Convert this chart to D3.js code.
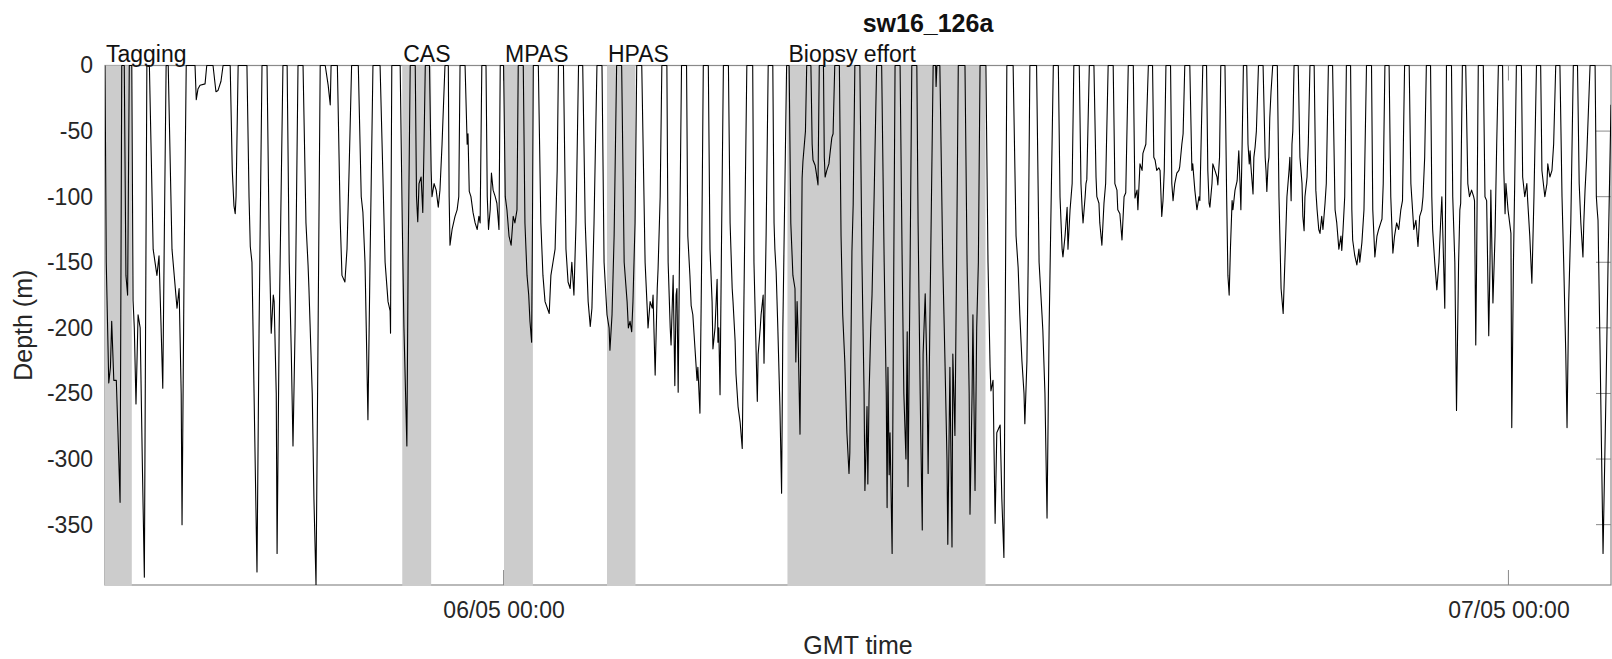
<!DOCTYPE html>
<html>
<head>
<meta charset="utf-8">
<script src="https://cdn.jsdelivr.net/npm/d3@7"></script>
<style>
  body { margin: 0; background: #fff; }
  svg { display: block; font-family: "Liberation Sans", Arial, Helvetica, sans-serif; }
</style>
</head>
<body>
<div id="chart"></div>
<script>
const width = 1612;
const height = 659;
const plot = {left: 105, right: 1611, top: 65.5, bottom: 585};

// dive profile: [hours since 05/05 00:00 GMT, depth (m)]
const profile = [
  [14.48,0],[14.51,-150],[14.57,-242],[14.61,-230],[14.64,-195],[14.69,-240],[14.75,-240],[14.79,-280],[14.84,-333],[14.88,0],
  [14.94,0],[14.98,-160],[15.02,-175],[15.06,0],
  [15.12,0],[15.15,-179],[15.18,-200],[15.22,-258],[15.27,-190],[15.32,-200],[15.37,-300],[15.42,-390],[15.48,0],
  [15.54,0],[15.63,-140],[15.72,-160],[15.77,-145],[15.82,-200],[15.86,-246],[15.90,-120],[15.94,0],
  [15.99,0],[16.08,-140],[16.20,-185],[16.25,-170],[16.30,-250],[16.32,-350],[16.37,-150],[16.42,0],
  [16.63,0],[16.66,-26],[16.70,-18],[16.75,-15],[16.87,-14],[16.91,0],
  [17.06,0],[17.13,-20],[17.18,-19],[17.25,-12],[17.30,0],
  [17.47,0],[17.52,-80],[17.56,-107],[17.59,-113],[17.61,-100],[17.66,0],
  [17.87,0],[17.92,-100],[17.95,-138],[17.99,-150],[18.04,-250],[18.11,-386],[18.16,-200],[18.23,0],
  [18.35,0],[18.40,-130],[18.45,-204],[18.50,-175],[18.52,-180],[18.57,-250],[18.59,-372],[18.64,-200],[18.73,0],
  [18.83,0],[18.88,-150],[18.93,-220],[18.97,-290],[19.02,-200],[19.09,0],
  [19.21,0],[19.28,-120],[19.33,-152],[19.35,-169],[19.43,-250],[19.47,-330],[19.52,-396],[19.57,-200],[19.62,0],
  [19.74,0],[19.81,-15],[19.86,-30],[19.88,0],
  [20.03,0],[20.10,-120],[20.14,-160],[20.21,-165],[20.26,-140],[20.31,-80],[20.37,0],
  [20.53,0],[20.60,-100],[20.64,-112],[20.69,-150],[20.72,-200],[20.76,-270],[20.81,-150],[20.88,0],
  [21.05,0],[21.17,-150],[21.24,-180],[21.29,-187],[21.30,-204],[21.31,-120],[21.33,0],
  [21.53,0],[21.58,-120],[21.62,-200],[21.69,-290],[21.72,-150],[21.77,0],
  [21.89,0],[21.92,-100],[21.95,-119],[21.98,-90],[22.03,-85],[22.07,-112],[22.10,-60],[22.13,0],
  [22.23,0],[22.27,-80],[22.29,-100],[22.34,-90],[22.39,-95],[22.44,-108],[22.48,-95],[22.53,-60],[22.60,0],
  [22.68,0],[22.70,-100],[22.72,-137],[22.77,-125],[22.84,-115],[22.89,-110],[22.93,-100],[22.96,0],
  [23.08,0],[23.13,-60],[23.15,-52],[23.18,-96],[23.22,-100],[23.27,-112],[23.32,-120],[23.37,-125],[23.41,-115],[23.44,-120],[23.48,0],
  [23.58,0],[23.61,-100],[23.64,-125],[23.68,-110],[23.71,-82],[23.75,-95],[23.80,-100],[23.84,-105],[23.89,-125],[23.92,0],
  [24.00,0],[24.04,-100],[24.08,-110],[24.13,-130],[24.18,-137],[24.23,-115],[24.27,-120],[24.32,-110],[24.35,0],
  [24.47,0],[24.51,-120],[24.56,-160],[24.60,-175],[24.63,-195],[24.67,-211],[24.69,-120],[24.71,0],
  [24.83,0],[24.89,-120],[24.94,-160],[24.99,-180],[25.09,-189],[25.13,-160],[25.18,-150],[25.23,-140],[25.28,-80],[25.31,0],
  [25.43,0],[25.49,-140],[25.54,-165],[25.59,-170],[25.63,-150],[25.68,-175],[25.73,-120],[25.79,0],
  [25.89,0],[25.95,-120],[26.02,-180],[26.07,-199],[26.11,-185],[26.16,-120],[26.23,0],
  [26.35,0],[26.40,-150],[26.47,-190],[26.52,-200],[26.54,-217],[26.59,-190],[26.64,-130],[26.70,0],
  [26.82,0],[26.88,-150],[26.95,-180],[26.98,-200],[27.02,-195],[27.06,-203],[27.09,-180],[27.14,-120],[27.18,0],
  [27.30,0],[27.38,-150],[27.43,-185],[27.45,-200],[27.50,-180],[27.55,-185],[27.57,-175],[27.62,-236],[27.67,-170],[27.69,-155],[27.74,-100],[27.78,0],
  [27.90,0],[27.93,-150],[27.98,-200],[28.00,-213],[28.05,-160],[28.07,-200],[28.09,-244],[28.12,-175],[28.14,-170],[28.17,-249],[28.20,-150],[28.25,0],
  [28.37,0],[28.40,-130],[28.45,-160],[28.48,-183],[28.52,-190],[28.57,-215],[28.62,-240],[28.64,-230],[28.69,-265],[28.73,-150],[28.77,0],
  [28.89,0],[28.93,-140],[28.98,-180],[29.00,-216],[29.05,-200],[29.10,-163],[29.12,-211],[29.14,-200],[29.17,-251],[29.20,-150],[29.25,0],
  [29.37,0],[29.41,-120],[29.46,-170],[29.48,-180],[29.53,-210],[29.55,-235],[29.60,-260],[29.65,-272],[29.70,-292],[29.74,-180],[29.81,0],
  [29.95,0],[29.98,-150],[30.06,-256],[30.08,-220],[30.13,-200],[30.15,-190],[30.20,-175],[30.22,-227],[30.27,-130],[30.32,0],
  [30.43,0],[30.46,-120],[30.48,-140],[30.51,-157],[30.55,-200],[30.60,-260],[30.64,-326],[30.67,-200],[30.76,0],
  [30.82,0],[30.86,-120],[30.91,-160],[30.96,-170],[30.98,-226],[31.01,-180],[31.03,-200],[31.08,-281],[31.13,-86],[31.15,-73],[31.21,-50],[31.24,0],
  [31.34,0],[31.37,-60],[31.39,-72],[31.44,-76],[31.46,-80],[31.51,-91],[31.54,0],
  [31.64,0],[31.66,-70],[31.68,-85],[31.72,-80],[31.77,-75],[31.80,-66],[31.84,-55],[31.87,-52],[31.91,0],
  [32.02,0],[32.06,-130],[32.10,-190],[32.15,-226],[32.20,-280],[32.25,-311],[32.27,-295],[32.32,-142],[32.35,-106],[32.39,0],
  [32.51,0],[32.56,-150],[32.61,-250],[32.63,-324],[32.66,-290],[32.68,-260],[32.70,-319],[32.73,-250],[32.77,-200],[32.80,-175],[32.85,-100],[32.91,0],
  [33.03,0],[33.09,-150],[33.14,-250],[33.16,-337],[33.18,-230],[33.21,-312],[33.23,-280],[33.28,-372],[33.31,-200],[33.35,0],
  [33.47,0],[33.52,-150],[33.56,-250],[33.61,-300],[33.64,-203],[33.66,-321],[33.71,-150],[33.75,0],
  [33.87,0],[33.90,-120],[33.95,-250],[34.00,-354],[34.02,-220],[34.07,-174],[34.11,-230],[34.14,-311],[34.18,-200],[34.26,0],
  [34.32,0],[34.33,-16],[34.35,0],
  [34.42,0],[34.49,-150],[34.54,-222],[34.59,-300],[34.61,-365],[34.66,-230],[34.71,-367],[34.73,-220],[34.78,-282],[34.82,-150],[34.86,0],
  [35.02,0],[35.07,-150],[35.12,-250],[35.14,-342],[35.19,-250],[35.21,-190],[35.26,-324],[35.30,-200],[35.34,-150],[35.38,0],
  [35.52,0],[35.57,-150],[35.62,-230],[35.64,-248],[35.69,-240],[35.74,-349],[35.78,-280],[35.86,-274],[35.90,-330],[35.95,-375],[35.98,-200],[36.02,0],
  [36.17,0],[36.24,-130],[36.29,-154],[36.33,-190],[36.38,-225],[36.43,-250],[36.45,-273],[36.50,-225],[36.53,-150],[36.57,0],
  [36.73,0],[36.79,-150],[36.86,-190],[36.88,-202],[36.93,-250],[36.98,-345],[37.03,-200],[37.08,-100],[37.13,0],
  [37.25,0],[37.29,-100],[37.34,-140],[37.36,-146],[37.41,-130],[37.46,-108],[37.48,-140],[37.53,-110],[37.58,-90],[37.62,0],
  [37.75,0],[37.79,-90],[37.82,-110],[37.84,-120],[37.89,-100],[37.91,-90],[37.93,-87],[37.99,0],
  [38.10,0],[38.15,-85],[38.17,-100],[38.22,-105],[38.24,-120],[38.29,-137],[38.34,-105],[38.38,-90],[38.44,0],
  [38.56,0],[38.60,-90],[38.65,-95],[38.67,-110],[38.72,-113],[38.77,-133],[38.82,-100],[38.86,-97],[38.92,0],
  [39.04,0],[39.08,-101],[39.13,-95],[39.15,-110],[39.20,-75],[39.25,-80],[39.27,-67],[39.34,-60],[39.40,0],
  [39.50,0],[39.53,-70],[39.56,-72],[39.60,-80],[39.65,-78],[39.68,-80],[39.72,-115],[39.75,-103],[39.78,-80],[39.82,0],
  [39.93,0],[39.96,-90],[39.99,-103],[40.03,-90],[40.08,-82],[40.13,-80],[40.15,-77],[40.20,-60],[40.23,-52],[40.27,0],
  [40.39,0],[40.44,-80],[40.46,-75],[40.51,-95],[40.56,-110],[40.61,-100],[40.63,-103],[40.70,0],
  [40.79,0],[40.82,-80],[40.85,-105],[40.87,-108],[40.92,-90],[40.94,-75],[40.99,-80],[41.04,-85],[41.06,-91],[41.10,-70],[41.13,0],
  [41.23,0],[41.27,-100],[41.30,-160],[41.33,-175],[41.36,-140],[41.40,-103],[41.42,-110],[41.47,-95],[41.52,-88],[41.56,-65],[41.59,-90],[41.61,-110],[41.64,-60],[41.67,0],
  [41.75,0],[41.78,-60],[41.81,-75],[41.83,-65],[41.85,-77],[41.90,-98],[41.92,-70],[41.95,-62],[41.98,-50],[42.03,0],
  [42.14,0],[42.19,-70],[42.21,-80],[42.23,-96],[42.26,-75],[42.28,-70],[42.30,-40],[42.33,-20],[42.37,0],
  [42.48,0],[42.52,-100],[42.57,-170],[42.62,-189],[42.66,-150],[42.71,-100],[42.76,-80],[42.78,-70],[42.81,-103],[42.83,-60],[42.85,-50],[42.88,0],
  [42.98,0],[43.02,-70],[43.07,-90],[43.09,-115],[43.12,-126],[43.14,-100],[43.19,-85],[43.22,-60],[43.26,0],
  [43.36,0],[43.40,-95],[43.43,-110],[43.47,-125],[43.50,-128],[43.54,-115],[43.57,-125],[43.62,-105],[43.65,-90],[43.70,0],
  [43.80,0],[43.86,-110],[43.90,-120],[43.95,-140],[44.00,-130],[44.02,-141],[44.05,-125],[44.09,-100],[44.13,0],
  [44.23,0],[44.26,-110],[44.28,-133],[44.33,-145],[44.38,-152],[44.43,-140],[44.45,-150],[44.50,-135],[44.55,-110],[44.61,0],
  [44.73,0],[44.76,-110],[44.81,-146],[44.86,-130],[44.90,-125],[44.95,-120],[44.98,-117],[45.01,-90],[45.05,0],
  [45.15,0],[45.19,-100],[45.24,-143],[45.28,-130],[45.33,-120],[45.38,-125],[45.43,-110],[45.47,-103],[45.52,0],
  [45.63,0],[45.67,-90],[45.69,-100],[45.74,-125],[45.79,-118],[45.84,-138],[45.88,-115],[45.93,-110],[45.96,-100],[46.00,-70],[46.04,0],
  [46.14,0],[46.17,-100],[46.19,-125],[46.24,-150],[46.29,-171],[46.34,-150],[46.38,-120],[46.41,-100],[46.46,-160],[46.48,-185],[46.50,-100],[46.52,0],
  [46.64,0],[46.67,-100],[46.72,-150],[46.76,-263],[46.81,-150],[46.84,-110],[46.86,-105],[46.90,0],
  [46.98,0],[47.03,-90],[47.07,-100],[47.12,-95],[47.17,-100],[47.19,-103],[47.22,-213],[47.24,-150],[47.28,0],
  [47.40,0],[47.44,-100],[47.48,-103],[47.53,-206],[47.56,-150],[47.58,-95],[47.63,-181],[47.68,-130],[47.72,-60],[47.76,0],
  [47.86,0],[47.89,-80],[47.92,-113],[47.94,-90],[47.99,-110],[48.01,-115],[48.06,-128],[48.08,-276],[48.12,-150],[48.15,-90],[48.19,0],
  [48.31,0],[48.34,-85],[48.39,-100],[48.44,-90],[48.46,-103],[48.51,-130],[48.56,-166],[48.61,-100],[48.67,0],
  [48.77,0],[48.80,-80],[48.87,-100],[48.92,-90],[48.94,-75],[48.99,-85],[49.04,-80],[49.08,-60],[49.13,0],
  [49.23,0],[49.28,-100],[49.32,-150],[49.37,-220],[49.40,-276],[49.44,-180],[49.49,-120],[49.55,0],
  [49.65,0],[49.69,-90],[49.73,-120],[49.78,-146],[49.80,-120],[49.83,-95],[49.87,-70],[49.95,0],
  [50.07,0],[50.10,-100],[50.12,-110],[50.14,-118],[50.19,-220],[50.26,-372],[50.33,-250],[50.38,-150],[50.45,-30]
];

// exposure / effort periods (hours since 05/05 00:00 GMT)
const periodNames = ['Tagging', 'CAS', 'MPAS', 'HPAS', 'Biopsy effort'];
const periodStart = [14.48, 21.58, 24.01, 26.47, 30.78];
const periodEnd = [15.12, 22.27, 24.70, 27.15, 35.51];

const depthTicks = [0, -50, -100, -150, -200, -250, -300, -350];
const dayTicks = [24, 48];   // 06/05 00:00 and 07/05 00:00

const t0 = Date.UTC(2016, 4, 5);
const toDate = (h) => new Date(t0 + h * 3600 * 1000);

const svg = d3.select('#chart').append('svg')
  .attr('width', width)
  .attr('height', height);

const x = d3.scaleTime()
  .domain([toDate(profile[0][0]), toDate(profile[profile.length - 1][0])])
  .range([plot.left, plot.right]);

const y = d3.scaleLinear()
  .domain([d3.min(profile, d => d[1]), 0])
  .range([plot.bottom, plot.top]);

const axisColor = '#8a8a8a';
const textColor = '#262626';
const tickLen = 15;

// box + inward ticks (drawn first so the shading sits on top, like matlab)
const box = svg.append('g');
box.append('rect')
  .attr('x', plot.left).attr('y', plot.top)
  .attr('width', plot.right - plot.left).attr('height', plot.bottom - plot.top)
  .style('fill', 'none').style('stroke', axisColor).style('stroke-width', 1.2);

depthTicks.forEach(v => {
  box.append('line').attr('x1', plot.left).attr('x2', plot.left + tickLen)
    .attr('y1', y(v)).attr('y2', y(v)).style('stroke', axisColor);
  box.append('line').attr('x1', plot.right - tickLen).attr('x2', plot.right)
    .attr('y1', y(v)).attr('y2', y(v)).style('stroke', axisColor);
});
dayTicks.forEach(h => {
  const px = x(toDate(h));
  box.append('line').attr('x1', px).attr('x2', px)
    .attr('y1', plot.bottom).attr('y2', plot.bottom - tickLen).style('stroke', axisColor);
  box.append('line').attr('x1', px).attr('x2', px)
    .attr('y1', plot.top).attr('y2', plot.top + tickLen).style('stroke', axisColor);
});

// shaded periods
svg.append('g').selectAll('rect')
  .data(periodNames)
  .join('rect')
  .attr('x', (d, i) => x(toDate(periodStart[i])))
  .attr('y', plot.top)
  .attr('width', (d, i) => x(toDate(periodEnd[i])) - x(toDate(periodStart[i])))
  .attr('height', plot.bottom - plot.top + 1)
  .style('fill', '#cccccc');

svg.append('defs').append('clipPath').attr('id', 'clip')
  .append('rect')
  .attr('x', plot.left).attr('y', plot.top - 1)
  .attr('width', plot.right - plot.left).attr('height', plot.bottom - plot.top + 1);

const line = d3.line()
  .x(d => x(toDate(d[0])))
  .y(d => y(d[1]));

svg.append('path')
  .datum(profile)
  .attr('clip-path', 'url(#clip)')
  .attr('d', line)
  .style('fill', 'none')
  .style('stroke', '#000')
  .style('stroke-width', 1.1)
  .style('stroke-linejoin', 'round');

// tick labels (plain hyphen minus, as in the original)
const yAxis = d3.axisLeft(y).tickValues(depthTicks)
  .tickFormat(d => String(d))
  .tickSize(0).tickPadding(12);
const gy = svg.append('g').attr('transform', `translate(${plot.left},0)`).call(yAxis);
gy.select('.domain').remove();
gy.selectAll('text')
  .style('font-size', '23px')
  .style('font-family', '"Liberation Sans", Arial, sans-serif')
  .style('fill', textColor);

const xAxis = d3.axisBottom(x)
  .tickValues(dayTicks.map(toDate))
  .tickFormat(d3.utcFormat('%d/%m %H:%M'))
  .tickSize(0).tickPadding(17);
const gx = svg.append('g').attr('transform', `translate(0,${plot.bottom})`).call(xAxis);
gx.select('.domain').remove();
gx.selectAll('text')
  .style('font-size', '23px')
  .style('font-family', '"Liberation Sans", Arial, sans-serif')
  .style('fill', textColor);

// period labels
svg.append('g').selectAll('text')
  .data(periodNames)
  .join('text')
  .attr('x', (d, i) => x(toDate(periodStart[i])) + 1)
  .attr('y', 62)
  .style('font-size', '23px')
  .style('fill', '#111')
  .text(d => d);

// axis titles
svg.append('text')
  .attr('x', (plot.left + plot.right) / 2)
  .attr('y', 654)
  .attr('text-anchor', 'middle')
  .style('font-size', '25px')
  .style('fill', textColor)
  .text('GMT time');

svg.append('text')
  .attr('transform', `translate(32,${(plot.top + plot.bottom) / 2}) rotate(-90)`)
  .attr('text-anchor', 'middle')
  .style('font-size', '25px')
  .style('fill', textColor)
  .text('Depth (m)');

svg.append('text')
  .attr('x', 928)
  .attr('y', 32)
  .attr('text-anchor', 'middle')
  .style('font-size', '25px')
  .style('font-weight', 'bold')
  .style('fill', '#111')
  .text('sw16_126a');
</script>
</body>
</html>
